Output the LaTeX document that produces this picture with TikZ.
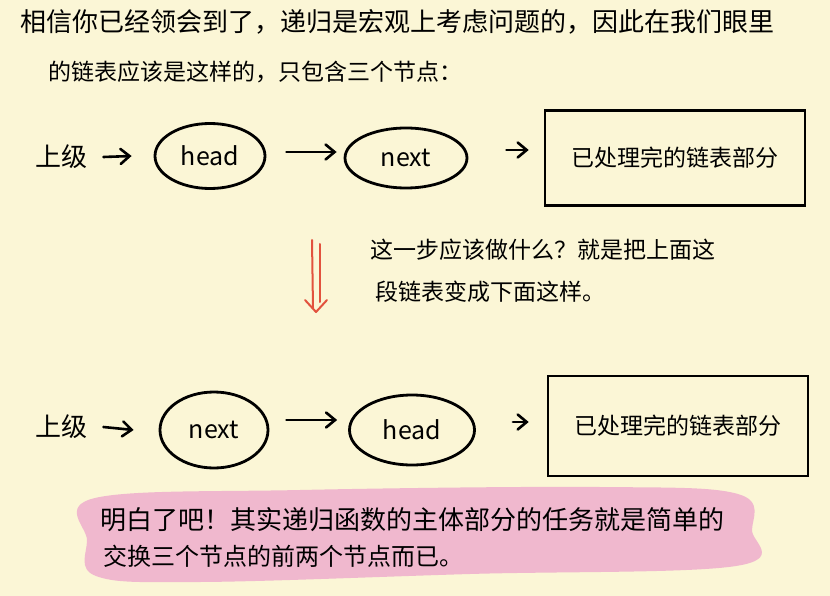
\documentclass[tikz,border=0pt]{standalone}
\usepackage{fontspec}
\newfontfamily\cjk{Noto Sans CJK SC}
\usetikzlibrary{shapes.geometric,arrows.meta}
\definecolor{bgc}{RGB}{251,246,214}
\definecolor{pinkc}{RGB}{240,184,206}
\definecolor{redc}{RGB}{226,82,62}
\begin{document}
\begin{tikzpicture}[x=1pt,y=-1pt,
  txt/.style={inner sep=0pt, anchor=west, text=black},
  fs/.style={font=\cjk\fontsize{#1}{#1}\selectfont},
  ell/.style={draw, ellipse, line width=2.8pt, inner sep=0pt, font=\cjk\fontsize{25}{25}\selectfont},
  boxnode/.style={draw, rectangle, line width=2.6pt, inner sep=0pt, font=\cjk\fontsize{23}{23}\selectfont},
  arr/.style={line width=2.6pt, line cap=round, -{Straight Barb[length=9pt,width=15pt,line cap=round]}}]
\fill[bgc] (0,0) rectangle (830,596);
\useasboundingbox (0,0) rectangle (830,596);
% top text
\node[txt,fs=26] (l1) at (20,22) {相信你已经领会到了，递归是宏观上考虑问题的，因此在我们眼里};
\node[txt,fs=23] (l2) at (48,72) {的链表应该是这样的，只包含三个节点：};
% row 1
\node[txt,fs=26] (s1) at (35,157) {上级};
\node[ell, minimum width=110pt, minimum height=65pt] (h1) at (210,156) {head};
\node[ell, minimum width=122pt, minimum height=60pt] (n1) at (406,158) {next};
\node[boxnode, minimum width=260pt, minimum height=95pt] (b1) at (675,158) {已处理完的链表部分};
\draw[arr] ([xshift=16pt]s1.east) -- ([xshift=-22pt]h1.west);
\draw[arr] ([xshift=20pt,yshift=4pt]h1.east) -- ([xshift=-7pt,yshift=4pt]h1.east -| n1.west);
\draw[arr] ([xshift=38pt,yshift=8pt]n1.east) -- ([xshift=-15pt,yshift=8pt]n1.east -| b1.west);
% red arrow
\coordinate (ra) at (316,240);
\coordinate (rb) at (316,312);
\draw[redc, line width=2pt, line cap=round] (ra) ++(-4,0) -- ++(1,68);
\draw[redc, line width=2pt, line cap=round] (ra) ++(4,4) -- ++(0,58);
\draw[redc, line width=2pt, line cap=round, line join=round] (rb) ++(-11,-12) -- (rb) -- ++(11,-12);
% middle text
\node[txt,fs=23] (m1) at (370,250) {这一步应该做什么？就是把上面这};
\node[txt,fs=23] (m2) at (375,292) {段链表变成下面这样。};
% row 2
\node[txt,fs=26] (s2) at (35,427) {上级};
\node[ell, minimum width=108pt, minimum height=76pt] (n2) at (214,430) {next};
\node[ell, minimum width=125pt, minimum height=70pt] (h2) at (412,430) {head};
\node[boxnode, minimum width=260pt, minimum height=100pt] (b2) at (678,426) {已处理完的链表部分};
\draw[arr] ([xshift=16pt]s2.east) -- ([xshift=-25pt]n2.west);
\draw[arr] ([xshift=17pt,yshift=10pt]n2.east) -- ([xshift=-11pt,yshift=10pt]n2.east -| h2.west);
\draw[arr] ([xshift=37pt,yshift=8pt]h2.east) -- ([xshift=-18pt,yshift=8pt]h2.east -| b2.west);
% bubble
\fill[pinkc] plot[smooth cycle, tension=0.6] coordinates {(95,498) (300,490) (600,487) (738,494) (752,530) (736,566) (470,574) (200,582) (96,576) (87,540)};
\node[txt,fs=26] (p1) at (100,520) {明白了吧！其实递归函数的主体部分的任务就是简单的};
\node[txt,fs=24] (p2) at (103,556) {交换三个节点的前两个节点而已。};
\end{tikzpicture}
\end{document}
